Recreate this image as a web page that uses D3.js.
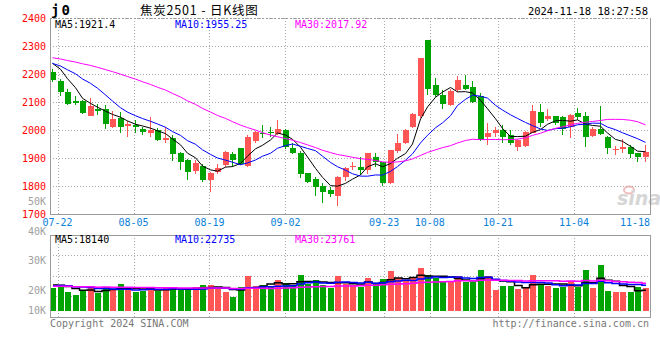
<!DOCTYPE html>
<html>
<head>
<meta charset="utf-8">
<script src="https://cdn.jsdelivr.net/npm/d3@7"></script>
<style>
  body { margin: 0; background: #fff; }
  svg { display: block; }
  text { font-family: "DejaVu Sans Mono", monospace; font-size: 10px; }
</style>
</head>
<body>
<svg id="chart" width="660" height="360"></svg>
<script>
// trading days shown (07-19 .. 11-18)
var dates = ["07-19",
  "07-22","07-23","07-24","07-25","07-26","07-29","07-30","07-31","08-01","08-02",
  "08-05","08-06","08-07","08-08","08-09","08-12","08-13","08-14","08-15","08-16",
  "08-19","08-20","08-21","08-22","08-23","08-26","08-27","08-28","08-29","08-30",
  "09-02","09-03","09-04","09-05","09-06","09-09","09-10","09-11","09-12","09-13",
  "09-18","09-19","09-20","09-23","09-24","09-25","09-26","09-27","09-30",
  "10-08","10-09","10-10","10-11","10-14","10-15","10-16","10-17","10-18",
  "10-21","10-22","10-23","10-24","10-25","10-28","10-29","10-30","10-31","11-01",
  "11-04","11-05","11-06","11-07","11-08","11-11","11-12","11-13","11-14","11-15",
  "11-18"];

var opens = [2206,2175,2136,2103,2104,2051,2076,2075,2011,2043,
  2013,2018,2002,1991,2000,1966,1973,1919,1893,1855,
  1873,1820,1849,1875,1914,1937,1871,1962,1990,1993,
  1986,2000,1935,1919,1845,1825,1800,1786,1764,1831,
  1868,1869,1857,1902,1885,1812,1926,1952,2009,2050,
  2321,2161,2125,2089,2143,2161,2152,2120,1976,1990,
  2000,1981,1940,1943,1990,2063,2038,2050,2047,2012,
  2060,2050,1979,2004,1975,1932,1931,1939,1918,1902];
var highs = [2217,2183,2147,2121,2107,2114,2093,2089,2069,2063,
  2033,2036,2012,2046,2008,2010,1982,1921,1895,1893,
  1880,1851,1880,1926,1923,1937,1982,1998,2018,2010,
  2036,2002,1952,1926,1846,1833,1810,1798,1837,1869,
  1887,1905,1919,1917,1887,1930,1986,2002,2062,2258,
  2322,2185,2143,2145,2194,2196,2175,2131,2024,2010,
  2018,2000,1967,1998,2089,2093,2075,2051,2050,2057,
  2077,2065,2010,2086,1979,1943,1967,1946,1919,1946];
var lows = [2170,2123,2089,2089,2057,2051,2054,2004,2008,1990,
  1976,1988,1982,1976,1962,1952,1889,1857,1821,1843,
  1815,1780,1843,1869,1869,1875,1869,1952,1970,1976,
  1982,1932,1913,1827,1810,1764,1738,1760,1729,1819,
  1857,1839,1843,1869,1800,1806,1917,1950,2006,2042,
  2125,2117,2074,2086,2137,2143,2095,1962,1946,1976,
  1952,1946,1926,1940,1988,2010,2033,2018,1982,1970,
  2036,1940,1976,1982,1914,1911,1919,1899,1887,1887];
var closes = [2177,2137,2093,2098,2061,2087,2068,2023,2039,2012,
  2020,2009,1992,2000,1965,1970,1913,1887,1851,1883,
  1822,1845,1864,1923,1893,1878,1976,1994,1986,1988,
  2002,1940,1919,1843,1815,1798,1780,1771,1833,1865,
  1873,1856,1917,1886,1812,1929,1952,2000,2057,2257,
  2145,2125,2093,2139,2179,2148,2101,1964,1988,2000,
  1976,1955,1964,1994,2068,2026,2050,2026,2002,2054,
  2048,1974,2004,1987,1934,1933,1940,1914,1902,1923];
var volumes = [19850,22800,16600,13900,18060,21000,15700,21000,18060,23700,
  19850,16900,17800,19260,17800,21000,20150,18370,18370,21000,
  22800,22800,19850,16600,12150,21000,30800,21900,22800,21900,
  27260,24600,22800,31700,23400,27260,22800,19850,30800,23700,
  22800,21300,29300,23400,28100,35200,29300,26400,28700,37900,
  31700,28700,26400,25200,30800,25200,25200,36100,30800,18400,
  21900,21900,19250,21000,31700,23400,21900,20400,21000,26400,
  21000,36000,20000,40500,17800,16500,16800,16500,21000,19900];

// sessions before the first visible day, only feed the moving averages
var priorCloses = [2270,2262,2255,2248,2262,2275,2268,2258,2280,2272,
  2285,2276,2290,2268,2262,2280,2271,2266,2255,2259,
  2232,2228,2240,2246,2244,2242,2262,2258,2251];
var priorVolumes = [22000,19500,23500,20800,21200,24000,19800,22500,20500,21000,
  23000,20000,21800,22400,19600,21500,22800,20300,21900,20600,
  21400,19800,22600,20500,23800,24500,22000,23100,25000];

var priceTicks = [2400,2300,2200,2100,2000,1900,1800,1700];
var volTicks = [50000,40000,30000,20000,10000];
var volTickText = ["50K","40K","30K","20K","10K"];
var dateTicks = ["07-22","08-05","08-19","09-02","09-23","10-08","10-21","11-04","11-18"];

var RED = "#ff5555", GREEN = "#00a400", GRID = "#a8a8a8", BORDER = "#9a9a9a";

var svg = d3.select("#chart");

var x = d3.scaleBand().domain(dates).range([50, 650]);
var gx = d3.scaleLinear().domain([0, dates.length - 1]).range([50, 650]);
var y = d3.scaleLinear().domain([1700, 2400]).range([214, 18]);
var vy = d3.scaleLinear().domain([0, 40000]).range([310.7, 265.7]);
var vLabelY = d3.scaleLinear().domain([20000, 50000]).range([290.5, 201.4]);

function movingAvg(prior, values, n) {
  var all = prior.concat(values);
  return values.map(function(v, i) {
    var end = prior.length + i + 1;
    return d3.mean(all.slice(end - n, end));
  });
}

var candles = dates.map(function(d, i) {
  return {date: d, open: opens[i], high: highs[i], low: lows[i], close: closes[i], vol: volumes[i]};
});

function cx(d) { return Math.round(x(d)); }

// watermark
var wm = svg.append("g");
wm.append("ellipse").attr("cx", 629).attr("cy", 190).attr("rx", 5).attr("ry", 3.5)
  .attr("fill", "none").attr("stroke", "#f3bcbc").attr("stroke-width", 2);
wm.append("text").attr("x", 617).attr("y", 205).text("sina")
  .style("font-family", "DejaVu Sans").style("font-size", "19px")
  .style("font-style", "italic").style("font-weight", "bold").attr("fill", "#d6d6d6");

// grid
var grid = svg.append("g").attr("stroke", GRID).attr("stroke-dasharray", "1,2").attr("shape-rendering", "crispEdges");
priceTicks.slice(0, -1).forEach(function(p) {
  grid.append("line").attr("x1", 50).attr("x2", 650)
    .attr("y1", Math.round(y(p)) + 0.5).attr("y2", Math.round(y(p)) + 0.5);
});
[255.5, 276.5, 296.5].forEach(function(v) {
  grid.append("line").attr("x1", 50).attr("x2", 650).attr("y1", v).attr("y2", v);
});
dateTicks.forEach(function(t) {
  var gxp = Math.round(gx(dates.indexOf(t))) + 0.5;
  grid.append("line").attr("x1", gxp).attr("x2", gxp).attr("y1", 18).attr("y2", 214);
  grid.append("line").attr("x1", gxp).attr("x2", gxp).attr("y1", 235).attr("y2", 318);
});

// candles
var cg = svg.append("g").attr("shape-rendering", "crispEdges");
cg.selectAll(".wick").data(candles).enter().append("rect")
  .attr("x", function(d) { return cx(d.date) + 2; })
  .attr("width", 1)
  .attr("y", function(d) { return y(d.high); })
  .attr("height", function(d) { return Math.max(1, y(d.low) - y(d.high)); })
  .attr("fill", function(d) { return d.close >= d.open ? RED : GREEN; });
cg.selectAll(".body").data(candles).enter().append("rect")
  .attr("x", function(d) { return cx(d.date); })
  .attr("width", 6)
  .attr("y", function(d) { return y(Math.max(d.open, d.close)); })
  .attr("height", function(d) { return Math.max(1, Math.abs(y(d.open) - y(d.close))); })
  .attr("fill", function(d) { return d.close >= d.open ? RED : GREEN; });

// price moving averages
var maDefs = [[5, "#000000"], [10, "#0000ff"], [30, "#ff00ff"]];
maDefs.forEach(function(m) {
  var ma = movingAvg(priorCloses, closes, m[0]);
  var line = d3.line()
    .x(function(d, i) { return cx(dates[i]) + 2.5; })
    .y(function(d) { return y(d); });
  svg.append("path").datum(ma).attr("d", line)
    .attr("fill", "none").attr("stroke", m[1]).attr("stroke-width", 1);
});

// volume bars
var vg = svg.append("g").attr("shape-rendering", "crispEdges");
vg.selectAll("rect").data(candles).enter().append("rect")
  .attr("x", function(d) { return cx(d.date); })
  .attr("width", 6)
  .attr("y", function(d) { return vy(d.vol); })
  .attr("height", function(d) { return vy(0) - vy(d.vol); })
  .attr("fill", function(d) { return d.close >= d.open ? RED : GREEN; });

maDefs.forEach(function(m) {
  var ma = movingAvg(priorVolumes, volumes, m[0]);
  var line = d3.line().curve(d3.curveStep)
    .x(function(d, i) { return cx(dates[i]) + 3; })
    .y(function(d) { return vy(d); });
  svg.append("path").datum(ma).attr("d", line)
    .attr("fill", "none").attr("stroke", m[1]).attr("stroke-width", 1.5);
});

// borders
var bd = svg.append("g").attr("stroke", BORDER).attr("fill", "none").attr("shape-rendering", "crispEdges");
bd.append("line").attr("x1", 50).attr("x2", 651).attr("y1", 18.5).attr("y2", 18.5).attr("stroke-dasharray", "2,2");
bd.append("path").attr("d", "M50.5,18V214.5H650.5V18");
bd.append("rect").attr("x", 50.5).attr("y", 235.5).attr("width", 600).attr("height", 82);

// axis labels
svg.selectAll(".plabel").data(priceTicks).enter().append("text")
  .attr("x", 46).attr("y", function(p) { return y(p) + 3.5; })
  .attr("text-anchor", "end").attr("fill", "#ff0000").text(function(p) { return p; });
svg.selectAll(".vlabel").data(volTicks).enter().append("text")
  .attr("x", 46).attr("y", function(v) { return Math.min(vLabelY(v), 310.5) + 3.5; })
  .attr("text-anchor", "end").attr("fill", "#a0a0a0").text(function(v, i) { return volTickText[i]; });
dateTicks.forEach(function(t) {
  var p = gx(dates.indexOf(t));
  var over = p + 15 > 651;
  svg.append("text").attr("x", over ? 650 : p).attr("y", 225.5)
    .attr("text-anchor", over ? "end" : "middle").attr("fill", "#0a80d8").text(t);
});

// header
svg.append("text").attr("x", 51).attr("y", 15).text("j0")
  .style("font-size", "14px").style("font-weight", "bold").style("letter-spacing", "2px");
svg.append("text").attr("x", 140).attr("y", 14.5).text("焦炭2501 - 日K线图")
  .style("font-family", "'Noto Sans CJK SC', sans-serif").style("font-size", "12.5px")
  .style("letter-spacing", "0.8px").style("white-space", "pre");
svg.append("text").attr("x", 648).attr("y", 15).attr("text-anchor", "end")
  .text("2024-11-18 18:27:58").style("font-size", "10.5px");

var priceMaText = ["MA5:1921.4", "MA10:1955.25", "MA30:2017.92"];
var volMaText = ["MA5:18140", "MA10:22735", "MA30:23761"];
var maX = [55, 175, 295];
maDefs.forEach(function(m, i) {
  svg.append("text").attr("x", maX[i]).attr("y", 27.5).attr("fill", m[1]).text(priceMaText[i]);
  svg.append("text").attr("x", maX[i]).attr("y", 242.5).attr("fill", m[1]).text(volMaText[i]);
});

svg.append("text").attr("x", 50).attr("y", 327).attr("fill", "#777").text("Copyright 2024 SINA.COM");
svg.append("text").attr("x", 649).attr("y", 327).attr("text-anchor", "end").attr("fill", "#777")
  .text("http://finance.sina.com.cn");
</script>
</body>
</html>
